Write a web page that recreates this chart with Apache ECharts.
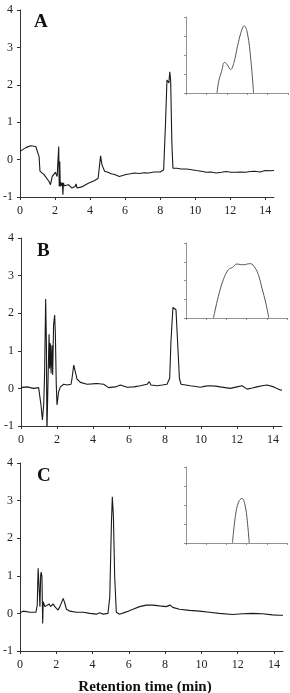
<!DOCTYPE html>
<html>
<head>
<meta charset="utf-8">
<script src="https://cdn.jsdelivr.net/npm/echarts@6/dist/echarts.min.js"></script>
<style>
  html, body { margin: 0; padding: 0; background: #fff; }
  #chart { width: 290px; height: 693px; }
</style>
</head>
<body>
<div id="chart"></div>
<script>
// chromatogram A (time in min, detector signal)
const timeA = [0, 0.34, 0.6, 0.9, 1.09, 1.14, 1.37, 1.65, 1.74, 1.84, 2.02, 2.12, 2.19, 2.21, 2.24, 2.27, 2.3, 2.33, 2.38, 2.42, 2.45, 2.48, 2.53, 2.6, 2.77, 2.96, 3.15, 3.2, 3.26, 3.52, 3.9, 4.27, 4.46, 4.5, 4.6, 4.68, 4.83, 5.02, 5.2, 5.4, 5.67, 6.05, 6.3, 6.52, 6.8, 7.08, 7.35, 7.64, 8.01, 8.2, 8.3, 8.39, 8.46, 8.5, 8.55, 8.6, 8.67, 8.73, 8.95, 9.2, 9.51, 9.8, 10.07, 10.35, 10.64, 10.9, 11.2, 11.5, 11.76, 12.05, 12.32, 12.6, 12.88, 13.15, 13.4, 13.7, 14.0, 14.3, 14.5];
const signalA = [0.22, 0.32, 0.37, 0.35, 0.08, -0.31, -0.4, -0.58, -0.67, -0.45, -0.34, -0.45, -0.4, 0.35, -0.72, -0.05, -0.72, -0.6, -0.7, -0.62, -0.94, -0.62, -0.7, -0.66, -0.67, -0.76, -0.72, -0.65, -0.76, -0.73, -0.63, -0.56, -0.5, -0.45, 0.1, -0.14, -0.31, -0.34, -0.38, -0.4, -0.45, -0.4, -0.38, -0.36, -0.37, -0.35, -0.36, -0.33, -0.33, -0.27, 0.88, 2.13, 2.17, 2.05, 2.35, 2.12, 0.44, -0.23, -0.23, -0.25, -0.25, -0.27, -0.29, -0.31, -0.34, -0.33, -0.36, -0.34, -0.32, -0.34, -0.34, -0.33, -0.34, -0.32, -0.31, -0.33, -0.29, -0.3, -0.29];

// chromatogram B
const timeB = [0, 0.33, 0.7, 0.98, 1.04, 1.11, 1.19, 1.26, 1.31, 1.37, 1.41, 1.44, 1.48, 1.52, 1.56, 1.59, 1.63, 1.67, 1.72, 1.76, 1.81, 1.87, 1.91, 1.96, 2.0, 2.09, 2.19, 2.37, 2.56, 2.78, 2.83, 2.93, 3.02, 3.11, 3.3, 3.67, 3.95, 4.22, 4.59, 4.87, 4.96, 5.24, 5.52, 5.89, 6.26, 6.63, 7.0, 7.13, 7.22, 7.56, 7.85, 8.11, 8.26, 8.33, 8.44, 8.52, 8.61, 8.7, 8.8, 8.89, 9.15, 9.41, 9.7, 9.96, 10.25, 10.52, 10.8, 11.07, 11.35, 11.63, 12.0, 12.28, 12.56, 12.85, 13.1, 13.4, 13.67, 14.04, 14.4, 14.5];
const signalB = [0.02, 0.04, 0.0, 0.02, -0.02, -0.44, -0.84, -0.44, 0.36, 2.38, 1.24, -1.2, -1.2, 0.62, 1.44, 0.53, 1.2, 0.4, 1.15, 0.36, 1.69, 1.95, 1.42, 0.09, -0.44, -0.09, 0.04, 0.11, 0.09, 0.11, 0.25, 0.62, 0.44, 0.25, 0.16, 0.11, 0.12, 0.13, 0.11, 0.02, -0.02, 0.04, 0.09, 0.03, 0.04, 0.07, 0.11, 0.18, 0.09, 0.07, 0.09, 0.11, 0.27, 1.24, 2.15, 2.2, 2.09, 1.24, 0.27, 0.11, 0.09, 0.07, 0.05, 0.03, 0.06, 0.07, 0.06, 0.04, 0.02, 0.0, 0.04, 0.07, -0.02, 0.01, 0.04, 0.07, 0.09, 0.04, -0.04, -0.05];

// chromatogram C
const timeC = [0, 0.18, 0.55, 0.88, 0.95, 1.0, 1.06, 1.1, 1.14, 1.17, 1.21, 1.25, 1.28, 1.32, 1.37, 1.47, 1.61, 1.68, 1.83, 1.92, 2.1, 2.2, 2.38, 2.47, 2.56, 2.75, 3.11, 3.48, 3.85, 4.21, 4.4, 4.58, 4.85, 4.95, 5.04, 5.09, 5.15, 5.22, 5.31, 5.49, 5.86, 6.23, 6.59, 6.96, 7.33, 7.69, 8.06, 8.28, 8.42, 8.79, 9.34, 9.89, 10.44, 10.99, 11.72, 12.27, 12.82, 13.37, 13.92, 14.29, 14.5];
const signalC = [0.02, 0.06, 0.03, 0.03, 0.22, 1.2, 0.62, 0.18, 1.02, 1.1, 0.98, -0.27, 0.31, 0.34, 0.18, 0.18, 0.25, 0.18, 0.25, 0.18, 0.09, 0.18, 0.4, 0.27, 0.11, 0.06, 0.03, 0.03, 0.0, -0.02, 0.02, -0.02, 0.0, 0.44, 2.4, 3.1, 2.58, 0.98, 0.03, -0.02, 0.04, 0.11, 0.18, 0.22, 0.22, 0.2, 0.18, 0.22, 0.16, 0.11, 0.08, 0.06, 0.03, 0.0, -0.03, -0.01, 0.0, -0.01, -0.04, -0.05, -0.05];

// inset peak profiles (arbitrary inset units)
const insetTimeA = [1.52, 1.6, 1.74, 1.89, 2.0, 2.19, 2.35, 2.52, 2.7, 2.85, 3.01, 3.18, 3.31];
const insetSignalA = [0, 0.6, 1.12, 1.61, 1.52, 1.24, 1.6, 2.44, 3.2, 3.54, 3.15, 1.73, 0];
const insetTimeB = [1.36, 1.6, 1.85, 2.1, 2.3, 2.52, 2.7, 2.85, 3.0, 3.18, 3.43, 3.6, 3.76, 3.95, 4.1];
const insetSignalB = [0, 1.15, 2.05, 2.58, 2.7, 2.88, 2.85, 2.84, 2.87, 2.9, 2.66, 2.25, 1.6, 0.8, 0];
const insetTimeC = [2.3, 2.45, 2.6, 2.77, 2.92, 3.03, 3.13];
const insetSignalC = [0, 1.45, 2.15, 2.35, 2.0, 1.2, 0];

const panelLetters = ['A', 'B', 'C'];
const yTicks = [-1, 0, 1, 2, 3, 4];
const xTicks = [0, 2, 4, 6, 8, 10, 12, 14];

const pairs = (xs, ys) => xs.map((x, i) => [x, ys[i]]);

const mains = [
  { data: pairs(timeA, signalA), grid: { left: 17, top: 10, width: 257, height: 187 } },
  { data: pairs(timeB, signalB), grid: { left: 21, top: 238, width: 261, height: 188 } },
  { data: pairs(timeC, signalC), grid: { left: 20, top: 463, width: 263, height: 188 } }
];
const insets = [
  { data: pairs(insetTimeA, insetSignalA), grid: { left: 186, top: 17, width: 102, height: 76 } },
  { data: pairs(insetTimeB, insetSignalB), grid: { left: 186, top: 243, width: 101, height: 75 } },
  { data: pairs(insetTimeC, insetSignalC), grid: { left: 186, top: 467, width: 101, height: 76 } }
];

const serif = "'Liberation Serif', 'DejaVu Serif', serif";
const grid = [], xAxis = [], yAxis = [], series = [];

mains.forEach((p, i) => {
  grid.push(p.grid);
  xAxis.push({
    type: 'value', gridIndex: i, min: 0, max: 14.5, interval: 2,
    axisLine: { onZero: false, lineStyle: { color: '#333', width: 1 } },
    axisTick: { length: 3, lineStyle: { color: '#333' } },
    axisLabel: { color: '#222', fontFamily: serif, fontSize: 12, margin: 8,
      showMaxLabel: false,
      formatter: v => (xTicks.indexOf(v) >= 0 ? String(v) : '') },
    splitLine: { show: false }
  });
  yAxis.push({
    type: 'value', gridIndex: i, min: -1, max: 4, interval: 1,
    axisLine: { show: true, onZero: false, lineStyle: { color: '#333', width: 1 } },
    axisTick: { show: true, length: 3, lineStyle: { color: '#333' } },
    axisLabel: { color: '#222', fontFamily: serif, fontSize: 12, margin: 7,
      formatter: v => (yTicks.indexOf(v) >= 0 ? String(v) : '') },
    splitLine: { show: false }
  });
  series.push({
    type: 'line', xAxisIndex: i, yAxisIndex: i, data: p.data,
    showSymbol: false, clip: true,
    lineStyle: { color: '#1a1a1a', width: 1.1 }
  });
});

insets.forEach((p, k) => {
  const i = k + 3;
  grid.push(p.grid);
  xAxis.push({
    type: 'value', gridIndex: i, min: 0, max: 5, interval: 1,
    axisLine: { onZero: false, lineStyle: { color: '#777', width: 0.8 } },
    axisTick: { length: 2, lineStyle: { color: '#777', width: 0.8 } },
    axisLabel: { show: false }, splitLine: { show: false }
  });
  yAxis.push({
    type: 'value', gridIndex: i, min: 0, max: 4, interval: 1,
    axisLine: { show: true, onZero: false, lineStyle: { color: '#777', width: 0.8 } },
    axisTick: { show: true, length: 2, lineStyle: { color: '#777', width: 0.8 } },
    axisLabel: { show: false }, splitLine: { show: false }
  });
  series.push({
    type: 'line', xAxisIndex: i, yAxisIndex: i, data: p.data,
    showSymbol: false, smooth: 0.4,
    lineStyle: { color: '#555', width: 1 }
  });
});

const letterPos = [[42, 23], [45, 252], [45, 477]];
const graphic = panelLetters.map((t, i) => ({
  type: 'text', left: letterPos[i][0] - 8, top: letterPos[i][1] - 10,
  style: { text: t, font: 'bold 19px ' + serif, fill: '#111' }
}));
graphic.push({
  type: 'text', left: 'center', top: 680,
  style: { text: 'Retention time (min)', font: 'bold 15px ' + serif, fill: '#111' }
});

const chart = echarts.init(document.getElementById('chart'));
chart.setOption({
  animation: false,
  backgroundColor: '#fff',
  grid, xAxis, yAxis, series, graphic
});
</script>
</body>
</html>
